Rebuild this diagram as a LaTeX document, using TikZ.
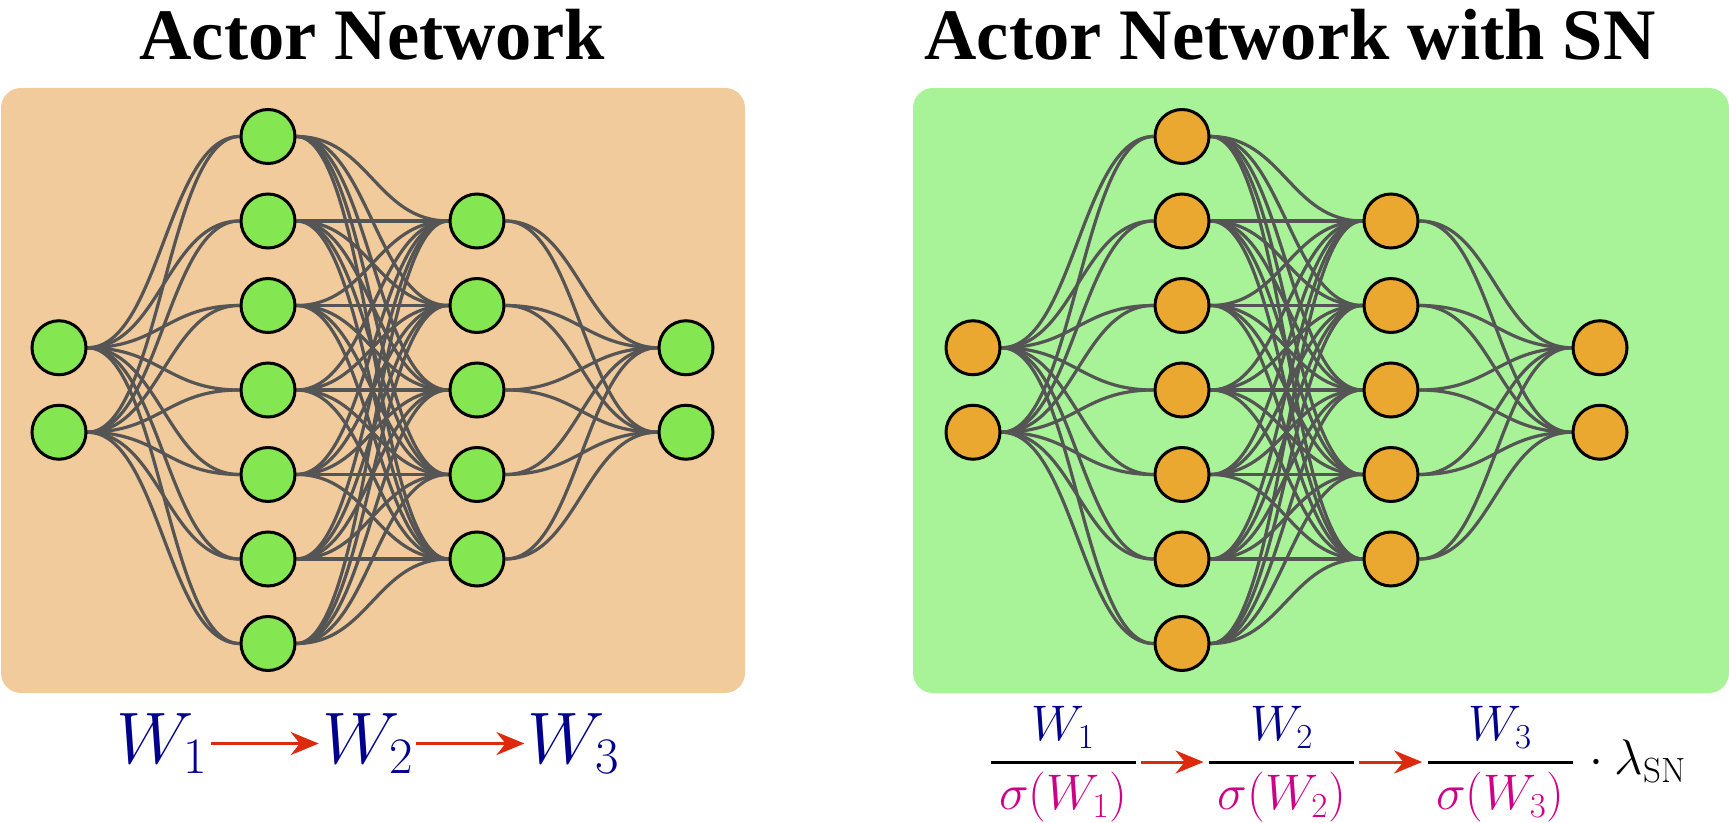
\documentclass[tikz,border=0pt]{standalone}
\usepackage{fix-cm}
\usepackage{amsmath}
\usepackage{fontspec}
\newfontfamily\headfont{Liberation Serif}
\usetikzlibrary{arrows.meta,positioning}

\definecolor{peach}{RGB}{241,203,155}
\definecolor{mint}{RGB}{168,243,151}
\definecolor{leaf}{RGB}{132,230,80}
\definecolor{amber}{RGB}{235,168,48}
\definecolor{wire}{RGB}{85,85,85}
\definecolor{wblue}{RGB}{0,0,140}
\definecolor{smag}{RGB}{205,0,135}
\definecolor{flow}{RGB}{221,42,14}

\pgfdeclarelayer{panel}
\pgfdeclarelayer{links}
\pgfsetlayers{panel,links,main}

\newcommand\snfrac[1]{\genfrac{}{}{1.5pt}{0}{\color{wblue}W_{#1}}{\color{smag}\mkern3mu\sigma(W_{#1})\mkern3mu}}

\begin{document}
\begin{tikzpicture}[x=0.5pt, y=-0.5pt, >={Stealth[length=14pt, width=11.5pt]}]
\tikzset{
  neuron/.style = {circle, draw, line width=1.5pt, minimum size=27pt, inner sep=0pt},
  link/.style = {draw=wire, line width=1.6pt},
  headline/.style = {font=\headfont\bfseries\fontsize{36.25}{40}\selectfont, inner sep=0pt, anchor=base},
  wlab/.style = {font=\fontsize{36.5}{40}\selectfont, text=wblue, inner sep=0pt},
  fraclab/.style = {font=\fontsize{25}{30}\selectfont, inner sep=0pt},
  flowarrow/.style = {->, draw=flow, line width=1.5pt, shorten >=1.5pt, shorten <=1pt}
}
\useasboundingbox (0,0) rectangle (1729,823);

% Panels
\begin{pgfonlayer}{panel}
\fill[peach, rounded corners=10pt] (1,88) rectangle (745,693);
\fill[mint, rounded corners=10pt] (913,88) rectangle (1729,693);
\end{pgfonlayer}

% Titles
\node[headline] (headA) at (372,60) {Actor Network};
\node[headline] (headB) at (1290,60) {Actor Network with SN};

% Neurons
\foreach \net/\dx/\tone in {a/0/leaf, b/914/amber}{
  \foreach \sz [count=\l] in {2,7,5,2}{
    \foreach \k in {1,...,\sz}{
      \node[neuron, fill=\tone] (\net-\l-\k) at ({59+209*(\l-1)+\dx}, {390+84.5*(\k-(\sz+1)/2)}) {};
    }
  }
}

% Connections
\begin{pgfonlayer}{links}
\foreach \net in {a,b}{
  \foreach \l/\sa/\m/\sb in {1/2/2/7, 2/7/3/5, 3/5/4/2}{
    \foreach \i in {1,...,\sa}{
      \foreach \j in {1,...,\sb}{
        \draw[link] (\net-\l-\i.east) .. controls +(72,0) and +(-72,0) .. (\net-\m-\j.west);
      }
    }
  }
}
\end{pgfonlayer}

% Weight chain
\node[wlab, anchor=base west] (w1) at (116,763) {$W_1$};
\node[wlab, right=56.5pt of w1] (w2) {$W_2$};
\node[wlab, right=56.5pt of w2] (w3) {$W_3$};
\draw[flowarrow] (w1) -- (w2);
\draw[flowarrow] (w2) -- (w3);

% Normalised chain
\node[fraclab, anchor=base west] (f1) at (988,774.5) {$\snfrac{1}$};
\node[fraclab, right=34pt of f1.base east, anchor=base west] (f2) {$\snfrac{2}$};
\node[fraclab, right=34pt of f2.base east, anchor=base west] (f3) {$\snfrac{3}$};
\node[fraclab, right=1.3pt of f3.base east, anchor=base west] (lam) {${}\cdot\lambda_{\mathrm{SN}}$};
\draw[flowarrow] ([yshift=6.25pt]f1.base east) -- ([yshift=6.25pt]f2.base west);
\draw[flowarrow] ([yshift=6.25pt]f2.base east) -- ([yshift=6.25pt]f3.base west);

\end{tikzpicture}
\end{document}
